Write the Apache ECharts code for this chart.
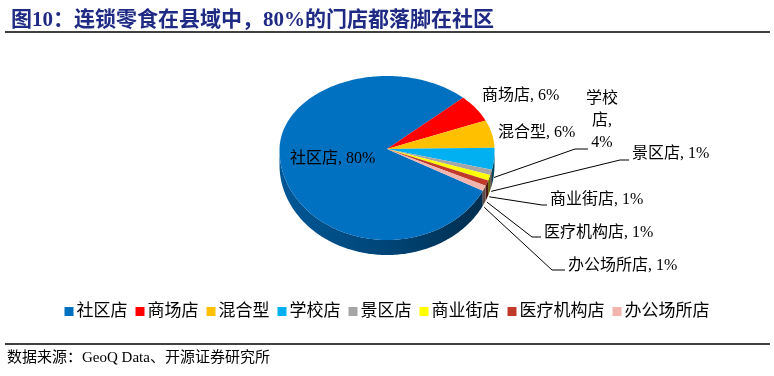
<!DOCTYPE html>
<html>
<head>
<meta charset="utf-8">
<script src="https://cdn.jsdelivr.net/npm/echarts@6/dist/echarts.min.js"></script>
<style>
  html, body { margin: 0; padding: 0; background: #fff; }
  #chart { width: 774px; height: 376px; }
</style>
</head>
<body>
<div id="chart"></div>
<script>
  // 门店分布（%）
  const names = ['社区店', '商场店', '混合型', '学校店', '景区店', '商业街店', '医疗机构店', '办公场所店'];
  const shares = [80, 6, 6, 4, 1, 1, 1, 1];
  const colors = ['#0070C0', '#FF0000', '#FFC000', '#00B0F0', '#A5A5A5', '#FFFF00', '#C0392B', '#F2B5AE'];

  const FONT = "'Liberation Serif', 'Noto Sans CJK SC', serif";

  // tilted pie look, first slice starts lower right and goes clockwise
  const cx = 387, cy = 150, rx = 107.5, ryTop = 74, ryBot = 90, depth = 15, startDeg = -27;

  // where excel put the labels (x,y of text, optional leader elbow/end)
  const labelLayout = [
    { x: 290, y: 159 },
    { x: 482, y: 96 },
    { x: 498, y: 133 },
    { x: 602, y: 121, align: 'center', wrap: true, line: [[575, 149], [588, 149]] },
    { x: 632, y: 154, line: [[620, 160], [629, 160]] },
    { x: 550, y: 200, line: [[542, 205], [547, 205]] },
    { x: 544, y: 233, line: [[532, 237], [541, 237]] },
    { x: 568, y: 266, line: [[552, 270], [565, 270]] }
  ];

  const rim = deg => {
    const t = deg * Math.PI / 180;
    const s = Math.sin(t);
    return [cx + rx * Math.cos(t), cy - (s > 0 ? ryTop : ryBot) * s];
  };
  const arc = (from, to) => {
    const pts = [];
    const n = Math.max(2, Math.ceil(Math.abs(to - from)));
    for (let k = 0; k <= n; k++) pts.push(rim(from + (to - from) * k / n));
    return pts;
  };
  const shade = (hex, f) => {
    const v = parseInt(hex.slice(1), 16);
    const r = Math.round(((v >> 16) & 255) * f), g = Math.round(((v >> 8) & 255) * f), b = Math.round((v & 255) * f);
    return 'rgb(' + r + ',' + g + ',' + b + ')';
  };

  const cum = [];
  shares.reduce((acc, v, i) => { cum[i] = acc; return acc + v; }, 0);
  const total = shares.reduce((a, b) => a + b, 0);

  function renderSlice(i) {
    return function (params, api) {
      const a0 = startDeg - cum[i] / total * 360;
      const a1 = a0 - api.value(0) / total * 360;
      const children = [];

      // side wall, only the lower half shows
      for (let k = -2; k <= 1; k++) {
        const lo = Math.max(a1, -180 + 360 * k), hi = Math.min(a0, 360 * k);
        if (hi <= lo) continue;
        const upper = arc(lo, hi);
        const lower = upper.slice().reverse().map(p => [p[0], p[1] + depth]);
        children.push({
          type: 'polygon',
          shape: { points: upper.concat(lower) },
          style: {
            fill: new echarts.graphic.LinearGradient(cx - rx, 0, cx + rx, 0, [
              { offset: 0, color: shade(colors[i], 0.78) },
              { offset: 0.5, color: shade(colors[i], 0.62) },
              { offset: 1, color: shade(colors[i], 0.38) }
            ], true)
          }
        });
      }

      // top face
      children.push({
        type: 'polygon',
        shape: { points: [[cx, cy - 1]].concat(arc(a0, a1)) },
        style: { fill: colors[i] }
      });

      // label
      const lay = labelLayout[i];
      const txt = lay.wrap
        ? names[i].slice(0, 2) + '\n' + names[i].slice(2) + ',\n' + shares[i] + '%'
        : names[i] + ', ' + shares[i] + '%';
      if (lay.line) {
        const mid = (a0 + a1) / 2;
        const p = rim(mid);
        children.push({
          type: 'polyline',
          shape: { points: [[p[0], p[1] + 19]].concat(lay.line) },
          style: { stroke: '#000', lineWidth: 1, fill: null }
        });
      }
      children.push({
        type: 'text',
        x: lay.x, y: lay.y,
        style: {
          text: txt,
          fill: '#000',
          font: '16px ' + FONT,
          align: lay.align || 'left',
          verticalAlign: 'middle',
          lineHeight: 22
        }
      });
      return { type: 'group', children: children };
    };
  }

  const chart = echarts.init(document.getElementById('chart'));
  chart.setOption({
    animation: false,
    title: {
      text: '图10：连锁零食在县域中，80%的门店都落脚在社区',
      left: 6, top: 5,
      textStyle: { fontSize: 21, fontWeight: 'bold', color: '#1F2A84', fontFamily: FONT }
    },
    legend: {
      data: names,
      left: 'center', top: 298,
      icon: 'rect', itemWidth: 9, itemHeight: 9, itemGap: 8,
      textStyle: { fontSize: 17, color: '#000', fontFamily: FONT, padding: [0, 0, 0, -2] }
    },
    graphic: [
      { type: 'line', shape: { x1: 5, y1: 32, x2: 770, y2: 32 }, style: { stroke: '#000', lineWidth: 1.5 } },
      { type: 'line', shape: { x1: 5, y1: 344, x2: 770, y2: 344 }, style: { stroke: '#000', lineWidth: 1.5 } },
      { type: 'text', x: 7, y: 358, style: { text: '数据来源：GeoQ Data、开源证券研究所', font: '15px ' + FONT, fill: '#000', verticalAlign: 'middle' } }
    ],
    series: names.map((n, i) => ({
      type: 'custom',
      name: n,
      coordinateSystem: 'none',
      itemStyle: { color: colors[i] },
      renderItem: renderSlice(i),
      data: [[shares[i]]]
    }))
  });
</script>
</body>
</html>
